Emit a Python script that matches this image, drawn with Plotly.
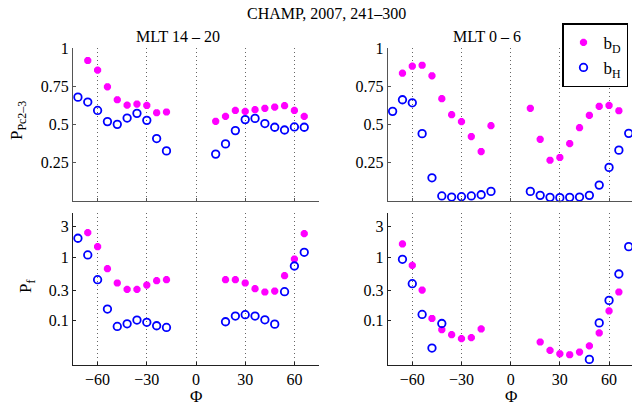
import plotly.graph_objects as go

W, H = 632, 405

# ---------------- data ----------------
# MLT 14-20, top (P_Pc2-3)
phi_d_tl = [-66, -60, -54, -48, -42, -36, -30, -24, -18, 12, 18, 24, 30, 36, 42, 48, 54, 60, 66]
bD_tl = [0.92, 0.857, 0.748, 0.663, 0.628, 0.635, 0.626, 0.578, 0.583,
         0.522, 0.554, 0.593, 0.587, 0.598, 0.607, 0.615, 0.624, 0.593, 0.554]
phi_h_tl = [-72, -66, -60, -54, -48, -42, -36, -30, -24, -18, 12, 18, 24, 30, 36, 42, 48, 54, 60, 66]
bH_tl = [0.680, 0.648, 0.593, 0.520, 0.502, 0.543, 0.574, 0.528, 0.409, 0.328,
         0.307, 0.374, 0.461, 0.533, 0.541, 0.507, 0.483, 0.465, 0.485, 0.483]

# MLT 0-6, top (P_Pc2-3)
phi_d_tr = [-66, -60, -54, -48, -42, -36, -30, -24, -18, -12, 12, 18, 24, 30, 36, 42, 48, 54, 60, 66]
bD_tr = [0.837, 0.883, 0.889, 0.820, 0.670, 0.565, 0.520, 0.422, 0.324, 0.493,
         0.607, 0.404, 0.267, 0.285, 0.376, 0.480, 0.561, 0.620, 0.626, 0.591]
phi_h_tr = [-72, -66, -60, -54, -48, -42, -36, -30, -24, -18, -12,
            12, 18, 24, 30, 36, 42, 48, 54, 60, 66, 72]
bH_tr = [0.587, 0.663, 0.643, 0.441, 0.152, 0.033, 0.026, 0.028, 0.033, 0.041, 0.063,
         0.063, 0.037, 0.024, 0.022, 0.024, 0.026, 0.037, 0.104, 0.220, 0.333, 0.443]

# MLT 14-20, bottom (P_f)
phi_d_bl = [-66, -60, -54, -48, -42, -36, -30, -24, -18, 18, 24, 30, 36, 42, 48, 54, 60, 66]
bD_bl = [2.43, 1.46, 0.657, 0.391, 0.310, 0.310, 0.363, 0.425, 0.441,
         0.441, 0.441, 0.391, 0.318, 0.282, 0.292, 0.509, 0.933, 2.34]
phi_h_bl = [-72, -66, -60, -54, -48, -42, -36, -30, -24, -18, 18, 24, 30, 36, 42, 48, 54, 60, 66]
bH_bl = [1.98, 1.08, 0.441, 0.152, 0.081, 0.089, 0.102, 0.094, 0.083, 0.078,
         0.096, 0.118, 0.124, 0.118, 0.103, 0.088, 0.285, 0.724, 1.19]

# MLT 0-6, bottom (P_f)
phi_d_br = [-66, -60, -54, -48, -42, -36, -30, -24, -18, 18, 24, 30, 36, 42, 48, 54, 60, 66]
bD_br = [1.61, 0.741, 0.303, 0.108, 0.072, 0.060, 0.052, 0.054, 0.074,
         0.046, 0.034, 0.030, 0.029, 0.032, 0.040, 0.064, 0.142, 0.282]
phi_h_br = [-66, -60, -54, -48, -42, 48, 54, 60, 66, 72]
bH_br = [0.923, 0.381, 0.125, 0.037, 0.090, 0.0245, 0.092, 0.208, 0.542, 1.46]

x_ticks = [-60, -30, 0, 30, 60]
top_ticks = [0.25, 0.5, 0.75, 1]
top_ticktext = ["0.25", "0.5", "0.75", "1"]
bot_ticks = [0.1, 0.3, 1, 3]
bot_ticktext = ["0.1", "0.3", "1", "3"]

main_title = "CHAMP, 2007, 241–300"
panel_titles = ["MLT 14 – 20", "MLT 0 – 6"]
ylab_top = "P<sub>Pc2–3</sub>"
ylab_bot = "P<sub>f</sub>"
xlab = "Φ"
names = ["b<sub>D</sub>", "b<sub>H</sub>"]

# ---------------- style ----------------
FONT = "Liberation Serif"
MAG = "#FF00FF"
BLUE = "#0000FF"

def px(x):
    return x / W

def py(y):
    return 1 - y / H

fig = go.Figure()

star = dict(symbol="asterisk-open", size=6, color=MAG, line=dict(color=MAG, width=2.6))
circ = dict(symbol="circle-open", size=7.5, color=BLUE, line=dict(color=BLUE, width=1.8))

panels = [
    ("x", "y", phi_d_tl, bD_tl, phi_h_tl, bH_tl, True),
    ("x2", "y2", phi_d_tr, bD_tr, phi_h_tr, bH_tr, False),
    ("x3", "y3", phi_d_bl, bD_bl, phi_h_bl, bH_bl, False),
    ("x4", "y4", phi_d_br, bD_br, phi_h_br, bH_br, False),
]
for xa, ya, xd, yd, xh, yh, show in panels:
    fig.add_trace(go.Scatter(x=xd, y=yd, mode="markers", marker=star, name=names[0],
                             showlegend=show, xaxis=xa, yaxis=ya, cliponaxis=False))
    fig.add_trace(go.Scatter(x=xh, y=yh, mode="markers", marker=circ, name=names[1],
                             showlegend=show, xaxis=xa, yaxis=ya, cliponaxis=False))

left_dom = [px(73), px(319)]
right_dom = [px(387.7), 1.0]
top_dom = [py(201), py(48.3)]
bot_dom = [py(365), py(212.7)]

tickfont = dict(family=FONT, size=16, color="black")

def xaxis(dom, rng, anchor, labels, lc):
    return dict(domain=dom, range=rng, anchor=anchor, tickvals=x_ticks,
                showticklabels=labels, ticks="inside", ticklen=3, tickcolor=lc,
                showline=True, linecolor=lc, linewidth=1, mirror=False,
                showgrid=True, gridcolor="#666666", griddash="1px,3px", gridwidth=1,
                zeroline=False, tickfont=tickfont, fixedrange=True)

def yaxis(dom, rng, anchor, tv, tt, typ, lc):
    return dict(domain=dom, range=rng, anchor=anchor, tickvals=tv, ticktext=tt, type=typ,
                ticks="inside", ticklen=3, tickcolor=lc, showline=True, linecolor=lc,
                linewidth=1, showgrid=False, zeroline=False, tickfont=tickfont,
                fixedrange=True)

TOPLC = "#555555"
BOTLC = "#222222"
fig.update_layout(
    xaxis=xaxis(left_dom, [-75, 75], "y", False, TOPLC),
    xaxis2=xaxis(right_dom, [-75, 74], "y2", False, TOPLC),
    xaxis3=xaxis(left_dom, [-75, 75], "y3", True, BOTLC),
    xaxis4=xaxis(right_dom, [-75, 74], "y4", True, BOTLC),
    yaxis=yaxis(top_dom, [0, 1], "x", top_ticks, top_ticktext, "linear", TOPLC),
    yaxis2=yaxis(top_dom, [0, 1], "x2", top_ticks, top_ticktext, "linear", TOPLC),
    yaxis3=yaxis(bot_dom, [-1.699, 0.699], "x3", bot_ticks, bot_ticktext, "log", BOTLC),
    yaxis4=yaxis(bot_dom, [-1.699, 0.699], "x4", bot_ticks, bot_ticktext, "log", BOTLC),
)

ann = []
def add_text(t, x, y, size=16, angle=0):
    ann.append(dict(text=t, x=px(x), y=py(y), xref="paper", yref="paper",
                    xanchor="center", yanchor="middle", showarrow=False, textangle=angle,
                    font=dict(family=FONT, size=size, color="black")))

add_text(main_title, 326.7, 14)
add_text(panel_titles[0], 178, 37)
add_text(panel_titles[1], 486.7, 37)
add_text(ylab_top, 18, 121, size=17, angle=-90)
add_text(ylab_bot, 27, 287, size=17, angle=-90)
add_text(xlab, 196, 396, size=17)
add_text(xlab, 510.7, 396, size=17)

fig.update_layout(
    annotations=ann,
    width=W, height=H,
    margin=dict(l=0, r=0, t=0, b=0, autoexpand=False),
    paper_bgcolor="white", plot_bgcolor="white",
    showlegend=True,
    legend=dict(x=px(562), y=py(23.3), xanchor="left", yanchor="top",
                bgcolor="white", bordercolor="black", borderwidth=1.5,
                font=dict(family=FONT, size=17, color="black"),
                tracegroupgap=0, itemwidth=30),
)

fig.write_html("out.html", config={"displayModeBar": False, "staticPlot": False},
               post_script="document.body.style.margin='0';document.body.style.overflow='hidden';")
